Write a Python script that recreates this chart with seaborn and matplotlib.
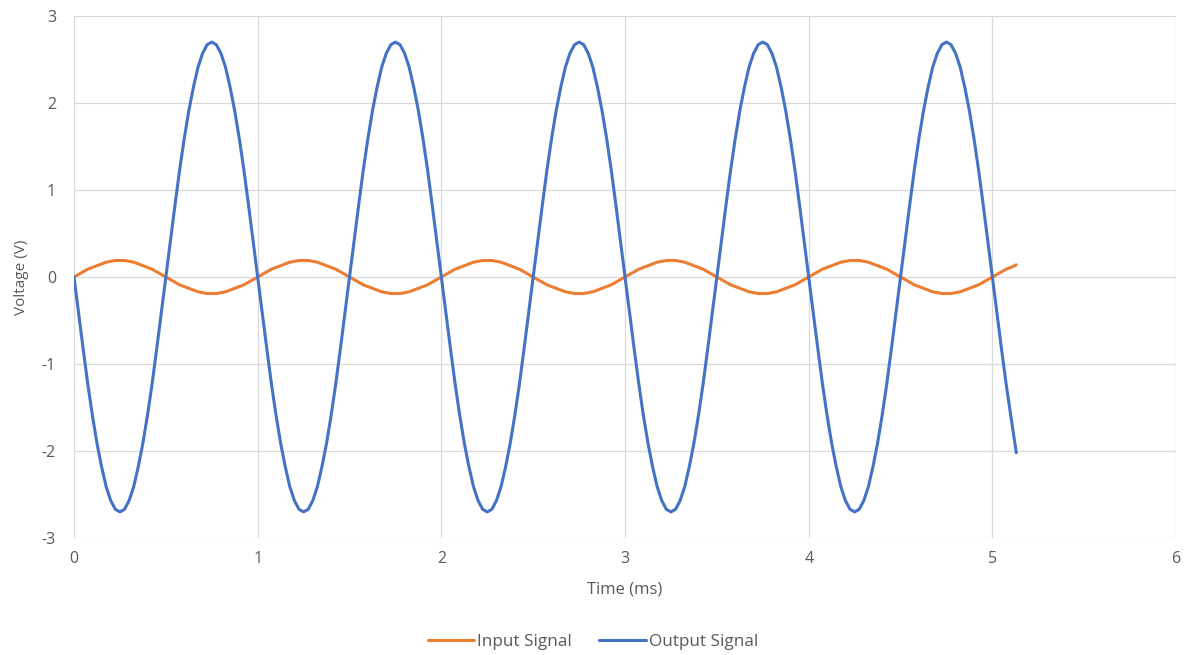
import pandas as pd
import seaborn as sns
import matplotlib.pyplot as plt
from matplotlib.lines import Line2D

# time axis (ms)
time_ms = [
    0, 0.025, 0.05, 0.075, 0.1, 0.125, 0.15, 0.175, 0.2, 0.225, 0.25, 0.275, 0.3, 0.325, 0.35, 0.375, 0.4, 0.425, 0.45, 0.475,
    0.5, 0.525, 0.55, 0.575, 0.6, 0.625, 0.65, 0.675, 0.7, 0.725, 0.75, 0.775, 0.8, 0.825, 0.85, 0.875, 0.9, 0.925, 0.95, 0.975,
    1.0, 1.025, 1.05, 1.075, 1.1, 1.125, 1.15, 1.175, 1.2, 1.225, 1.25, 1.275, 1.3, 1.325, 1.35, 1.375, 1.4, 1.425, 1.45, 1.475,
    1.5, 1.525, 1.55, 1.575, 1.6, 1.625, 1.65, 1.675, 1.7, 1.725, 1.75, 1.775, 1.8, 1.825, 1.85, 1.875, 1.9, 1.925, 1.95, 1.975,
    2.0, 2.025, 2.05, 2.075, 2.1, 2.125, 2.15, 2.175, 2.2, 2.225, 2.25, 2.275, 2.3, 2.325, 2.35, 2.375, 2.4, 2.425, 2.45, 2.475,
    2.5, 2.525, 2.55, 2.575, 2.6, 2.625, 2.65, 2.675, 2.7, 2.725, 2.75, 2.775, 2.8, 2.825, 2.85, 2.875, 2.9, 2.925, 2.95, 2.975,
    3.0, 3.025, 3.05, 3.075, 3.1, 3.125, 3.15, 3.175, 3.2, 3.225, 3.25, 3.275, 3.3, 3.325, 3.35, 3.375, 3.4, 3.425, 3.45, 3.475,
    3.5, 3.525, 3.55, 3.575, 3.6, 3.625, 3.65, 3.675, 3.7, 3.725, 3.75, 3.775, 3.8, 3.825, 3.85, 3.875, 3.9, 3.925, 3.95, 3.975,
    4.0, 4.025, 4.05, 4.075, 4.1, 4.125, 4.15, 4.175, 4.2, 4.225, 4.25, 4.275, 4.3, 4.325, 4.35, 4.375, 4.4, 4.425, 4.45, 4.475,
    4.5, 4.525, 4.55, 4.575, 4.6, 4.625, 4.65, 4.675, 4.7, 4.725, 4.75, 4.775, 4.8, 4.825, 4.85, 4.875, 4.9, 4.925, 4.95, 4.975,
    5.0, 5.025, 5.05, 5.075, 5.1, 5.13,
]

input_v = [
    0, 0.03, 0.06, 0.09, 0.11, 0.13, 0.15, 0.17, 0.18, 0.19, 0.19, 0.19, 0.18, 0.17, 0.15, 0.13, 0.11, 0.09, 0.06, 0.03,
    0, -0.03, -0.06, -0.09, -0.11, -0.13, -0.15, -0.17, -0.18, -0.19, -0.19, -0.19, -0.18, -0.17, -0.15, -0.13, -0.11, -0.09, -0.06, -0.03,
    0, 0.03, 0.06, 0.09, 0.11, 0.13, 0.15, 0.17, 0.18, 0.19, 0.19, 0.19, 0.18, 0.17, 0.15, 0.13, 0.11, 0.09, 0.06, 0.03,
    0, -0.03, -0.06, -0.09, -0.11, -0.13, -0.15, -0.17, -0.18, -0.19, -0.19, -0.19, -0.18, -0.17, -0.15, -0.13, -0.11, -0.09, -0.06, -0.03,
    0, 0.03, 0.06, 0.09, 0.11, 0.13, 0.15, 0.17, 0.18, 0.19, 0.19, 0.19, 0.18, 0.17, 0.15, 0.13, 0.11, 0.09, 0.06, 0.03,
    0, -0.03, -0.06, -0.09, -0.11, -0.13, -0.15, -0.17, -0.18, -0.19, -0.19, -0.19, -0.18, -0.17, -0.15, -0.13, -0.11, -0.09, -0.06, -0.03,
    0, 0.03, 0.06, 0.09, 0.11, 0.13, 0.15, 0.17, 0.18, 0.19, 0.19, 0.19, 0.18, 0.17, 0.15, 0.13, 0.11, 0.09, 0.06, 0.03,
    0, -0.03, -0.06, -0.09, -0.11, -0.13, -0.15, -0.17, -0.18, -0.19, -0.19, -0.19, -0.18, -0.17, -0.15, -0.13, -0.11, -0.09, -0.06, -0.03,
    0, 0.03, 0.06, 0.09, 0.11, 0.13, 0.15, 0.17, 0.18, 0.19, 0.19, 0.19, 0.18, 0.17, 0.15, 0.13, 0.11, 0.09, 0.06, 0.03,
    0, -0.03, -0.06, -0.09, -0.11, -0.13, -0.15, -0.17, -0.18, -0.19, -0.19, -0.19, -0.18, -0.17, -0.15, -0.13, -0.11, -0.09, -0.06, -0.03,
    0, 0.03, 0.06, 0.09, 0.11, 0.14,
]

output_v = [
    0, -0.42, -0.83, -1.23, -1.59, -1.91, -2.18, -2.41, -2.57, -2.67, -2.70, -2.67, -2.57, -2.41, -2.18, -1.91, -1.59, -1.23, -0.83, -0.42,
    0, 0.42, 0.83, 1.23, 1.59, 1.91, 2.18, 2.41, 2.57, 2.67, 2.70, 2.67, 2.57, 2.41, 2.18, 1.91, 1.59, 1.23, 0.83, 0.42,
    0, -0.42, -0.83, -1.23, -1.59, -1.91, -2.18, -2.41, -2.57, -2.67, -2.70, -2.67, -2.57, -2.41, -2.18, -1.91, -1.59, -1.23, -0.83, -0.42,
    0, 0.42, 0.83, 1.23, 1.59, 1.91, 2.18, 2.41, 2.57, 2.67, 2.70, 2.67, 2.57, 2.41, 2.18, 1.91, 1.59, 1.23, 0.83, 0.42,
    0, -0.42, -0.83, -1.23, -1.59, -1.91, -2.18, -2.41, -2.57, -2.67, -2.70, -2.67, -2.57, -2.41, -2.18, -1.91, -1.59, -1.23, -0.83, -0.42,
    0, 0.42, 0.83, 1.23, 1.59, 1.91, 2.18, 2.41, 2.57, 2.67, 2.70, 2.67, 2.57, 2.41, 2.18, 1.91, 1.59, 1.23, 0.83, 0.42,
    0, -0.42, -0.83, -1.23, -1.59, -1.91, -2.18, -2.41, -2.57, -2.67, -2.70, -2.67, -2.57, -2.41, -2.18, -1.91, -1.59, -1.23, -0.83, -0.42,
    0, 0.42, 0.83, 1.23, 1.59, 1.91, 2.18, 2.41, 2.57, 2.67, 2.70, 2.67, 2.57, 2.41, 2.18, 1.91, 1.59, 1.23, 0.83, 0.42,
    0, -0.42, -0.83, -1.23, -1.59, -1.91, -2.18, -2.41, -2.57, -2.67, -2.70, -2.67, -2.57, -2.41, -2.18, -1.91, -1.59, -1.23, -0.83, -0.42,
    0, 0.42, 0.83, 1.23, 1.59, 1.91, 2.18, 2.41, 2.57, 2.67, 2.70, 2.67, 2.57, 2.41, 2.18, 1.91, 1.59, 1.23, 0.83, 0.42,
    0, -0.42, -0.83, -1.23, -1.59, -2.02,
]

series_names = ["Input Signal", "Output Signal"]
series_colors = ["#ED7D31", "#4472C4"]
x_ticks = [0, 1, 2, 3, 4, 5, 6]
y_ticks = [-3, -2, -1, 0, 1, 2, 3]

df = pd.concat([
    pd.DataFrame({"Time": time_ms, "Voltage": input_v, "Signal": series_names[0]}),
    pd.DataFrame({"Time": time_ms, "Voltage": output_v, "Signal": series_names[1]}),
])

sns.set_style("white")
plt.rcParams["font.family"] = ["Open Sans", "DejaVu Sans"]
plt.rcParams["axes.unicode_minus"] = False
text_col = "#595959"

fig = plt.figure(figsize=(11.86, 6.55), dpi=100)
ax = fig.add_axes([0.0624, 0.1786, 0.9292, 0.797])

sns.lineplot(ax=ax, data=df, x="Time", y="Voltage", hue="Signal",
             palette=dict(zip(series_names, series_colors)),
             estimator=None, sort=False, linewidth=2.2, legend=False)
for ln in ax.lines:
    ln.set_solid_joinstyle("round")
    ln.set_solid_capstyle("round")

ax.set_xlim(0, 6)
ax.set_ylim(-3, 3)
ax.set_xticks(x_ticks)
ax.set_yticks(y_ticks)
ax.grid(True, color="#d9d9d9", linewidth=0.9)
ax.set_axisbelow(True)
for s in ax.spines.values():
    s.set_visible(False)
ax.tick_params(length=0, labelsize=11.5, colors=text_col)
ax.tick_params(axis="y", pad=13)
ax.tick_params(axis="x", pad=9)
ax.set_xlabel("Time (ms)", fontsize=12, color=text_col, labelpad=11)
ax.set_ylabel("Voltage (V)", fontsize=11, color=text_col, labelpad=9)

handles = [Line2D([0], [0], color=c, lw=2.2) for c in series_colors]
fig.legend(handles, series_names, loc="center", bbox_to_anchor=(0.5, 0.02),
           ncol=2, frameon=False, fontsize=12.3, handlelength=2.7,
           handletextpad=0.2, columnspacing=1.6, labelcolor=text_col)

plt.savefig("out.png", dpi=100)
